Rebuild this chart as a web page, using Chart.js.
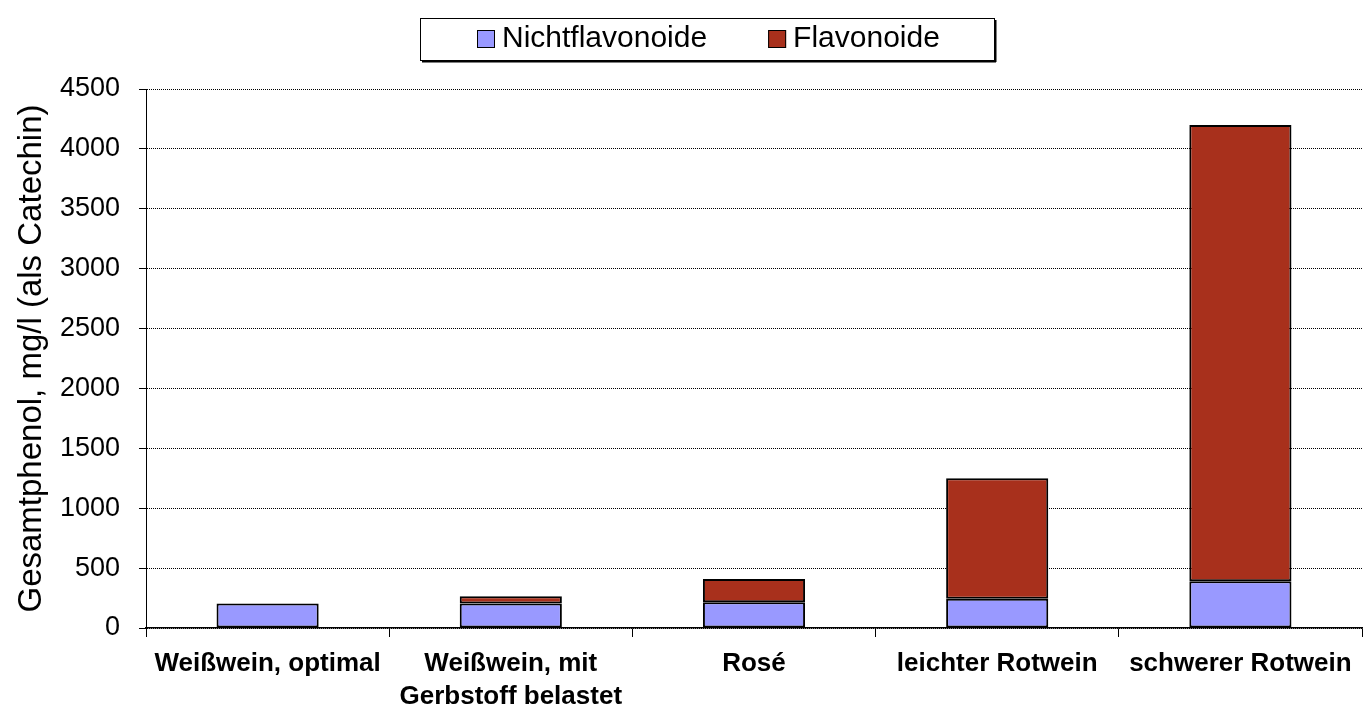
<!DOCTYPE html>
<html>
<head>
<meta charset="utf-8">
<script src="https://cdn.jsdelivr.net/npm/chart.js@4"></script>
<style>
  html, body { margin: 0; padding: 0; background: #fff; }
  #wrap { width: 1363px; height: 708px; }
</style>
</head>
<body>
<div id="wrap"><canvas id="c" width="1363" height="708"></canvas></div>
<script>
const categories = [
  'Weißwein, optimal',
  ['Weißwein, mit', 'Gerbstoff belastet'],
  'Rosé',
  'leichter Rotwein',
  'schwerer Rotwein'
];
const seriesNames = ['Nichtflavonoide', 'Flavonoide'];
const nichtflavonoide = [205, 205, 215, 245, 390];
const flavonoide = [0, 60, 195, 1005, 3810];
const yTicks = [0, 500, 1000, 1500, 2000, 2500, 3000, 3500, 4000, 4500];
const yTitle = 'Gesamtphenol, mg/l (als Catechin)';

const FONT = '"Liberation Sans", Arial, Helvetica, sans-serif';

const framedLegend = {
  id: 'framedLegend',
  afterDraw(chart) {
    const ctx = chart.ctx;
    const L = 420, T = 18, R = 994, B = 60;
    ctx.save();
    ctx.fillStyle = '#ffffff';
    ctx.fillRect(L, T, R - L, B - T);
    ctx.fillStyle = '#000';
    ctx.fillRect(R + 1, T + 2, 1.5, B - T);
    ctx.fillRect(L + 2, B + 1, R - L, 1.5);
    ctx.strokeStyle = '#000';
    ctx.lineWidth = 1;
    ctx.strokeRect(L + 0.5, T + 0.5, R - L, B - T);
    ctx.font = '30px ' + FONT;
    ctx.textBaseline = 'middle';
    ctx.textAlign = 'left';
    let x = 477;
    const cy = 39;
    chart.data.datasets.forEach(ds => {
      ctx.fillStyle = ds.backgroundColor;
      ctx.fillRect(x, cy - 9, 18, 18);
      ctx.strokeStyle = '#000';
      ctx.lineWidth = 1;
      ctx.strokeRect(x + 0.5, cy - 8.5, 17, 17);
      x += 18 + 7;
      ctx.fillStyle = '#000';
      ctx.fillText(ds.label, x, cy);
      x += ctx.measureText(ds.label).width + 61;
    });
    ctx.restore();
  }
};

new Chart(document.getElementById('c'), {
  type: 'bar',
  data: {
    labels: categories,
    datasets: [
      {
        label: seriesNames[0],
        data: nichtflavonoide,
        backgroundColor: '#9999FF',
        borderColor: '#000',
        borderWidth: 2,
        borderSkipped: false,
        barPercentage: 0.42,
        categoryPercentage: 1.0
      },
      {
        label: seriesNames[1],
        data: flavonoide,
        backgroundColor: '#A8301C',
        borderColor: '#000',
        borderWidth: 2,
        borderSkipped: false,
        barPercentage: 0.42,
        categoryPercentage: 1.0
      }
    ]
  },
  options: {
    responsive: false,
    animation: false,
    devicePixelRatio: 1,
    layout: { padding: { top: 89, right: 1, left: 0, bottom: 0 } },
    plugins: {
      legend: { display: false },
      tooltip: { enabled: false },
      title: { display: false }
    },
    scales: {
      x: {
        stacked: true,
        offset: true,
        grid: {
          display: true,
          offset: true,
          drawOnChartArea: false,
          drawTicks: true,
          tickLength: 9,
          color: '#000',
          lineWidth: 1
        },
        border: { display: true, color: '#000', width: 1.5 },
        ticks: {
          color: '#000',
          padding: 10,
          maxRotation: 0,
          autoSkip: false,
          font: { family: FONT, size: 26, weight: 'bold', lineHeight: 1.28 }
        },
        afterFit(scale) { scale.height = 80; }
      },
      y: {
        stacked: true,
        min: 0,
        max: 4500,
        afterBuildTicks(scale) { scale.ticks = yTicks.map(v => ({ value: v })); },
        grid: {
          display: true,
          color: '#000',
          lineWidth: 1,
          drawTicks: true,
          tickLength: 7,
          tickColor: '#000'
        },
        border: { display: true, color: '#000', width: 1, dash: [1, 1] },
        ticks: {
          color: '#000',
          padding: 19,
          font: { family: FONT, size: 27 },
          callback: (v) => String(v)
        },
        title: {
          display: true,
          text: yTitle,
          color: '#000',
          padding: { top: 12, bottom: 0 },
          font: { family: FONT, size: 33, lineHeight: 1.2 }
        },
        afterFit(scale) { scale.width = 146; }
      }
    }
  },
  plugins: [framedLegend]
});
</script>
</body>
</html>
